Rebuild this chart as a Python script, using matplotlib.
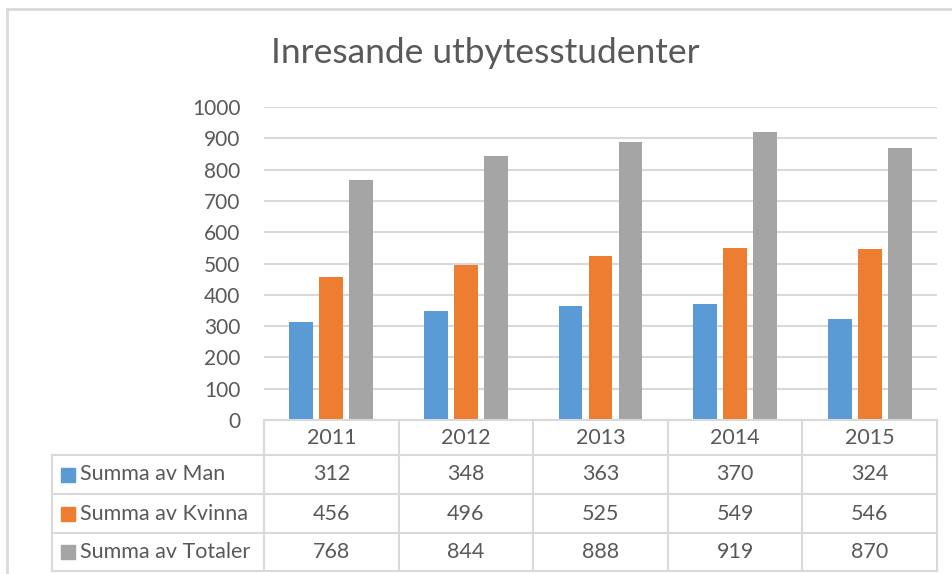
import matplotlib
matplotlib.use('Agg')
import matplotlib.pyplot as plt
from matplotlib.lines import Line2D
from matplotlib.patches import Rectangle
import matplotlib.transforms as mtransforms
import numpy as np

# ---- data ----
years = ['2011', '2012', '2013', '2014', '2015']
man = [312, 348, 363, 370, 324]
kvinna = [456, 496, 525, 549, 546]
totaler = [768, 844, 888, 919, 870]
series_names = ['Summa av Man', 'Summa av Kvinna', 'Summa av Totaler']
title = 'Inresande utbytesstudenter'
yticks = list(range(0, 1001, 100))

# ---- style ----
colors = ['#5B9BD5', '#ED7D31', '#A5A5A5']
text_c = '#595959'
grid_c = '#D9D9D9'
plt.rcParams['font.family'] = ['Lato', 'DejaVu Sans']

W, H = 952, 574
fig = plt.figure(figsize=(W / 100, H / 100), dpi=100)

def fx(px):
    return px / W

def fy(py):
    return 1 - py / H

# plot area in pixels
L, R, T, B = 264, 937, 107, 420
ax = fig.add_axes([fx(L), fy(B), (R - L) / W, (B - T) / H])

x = np.arange(len(years))
off, bw = 0.223, 0.178
all_series = [man, kvinna, totaler]
for i, (vals, c) in enumerate(zip(all_series, colors)):
    ax.bar(x + (i - 1) * off, vals, bw, color=c, zorder=3)

ax.set_xlim(-0.5, len(years) - 0.5)
ax.set_ylim(0, 1000)
ax.set_yticks(yticks)
ax.set_xticks([])
ax.yaxis.grid(True, color=grid_c, lw=1.5, zorder=0)
for s in ax.spines.values():
    s.set_visible(False)
ax.tick_params(axis='y', length=0, pad=17, labelsize=15, labelcolor=text_c)

# title
fig.text(fx(485), fy(53), title, ha='center', va='center', fontsize=25.5,
         color=text_c, fontweight='normal')

# ---- data table ----
rows_px = [420, 455, 494, 533, 571]
lab_left = 52
ln = dict(color=grid_c, lw=1.5, transform=fig.transFigure)
fig.add_artist(Line2D([fx(L), fx(R)], [fy(rows_px[0])] * 2, **ln))
for py in rows_px[1:]:
    fig.add_artist(Line2D([fx(lab_left), fx(R)], [fy(py)] * 2, **ln))
trans = mtransforms.blended_transform_factory(ax.transData, fig.transFigure)
for k in range(len(years) + 1):
    xb = k - 0.5
    fig.add_artist(Line2D([xb, xb], [fy(rows_px[0]), fy(rows_px[-1])],
                          color=grid_c, lw=1.5, transform=trans))
fig.add_artist(Line2D([fx(lab_left)] * 2, [fy(rows_px[1]), fy(rows_px[-1])], **ln))

fs = 15.5
ymid = (rows_px[0] + rows_px[1]) / 2
for xi, yr in zip(x, years):
    fig.text(xi, fy(ymid), yr, ha='center', va='center', fontsize=fs,
             color=text_c, transform=trans)
for r, (name, vals, c) in enumerate(zip(series_names, all_series, colors)):
    ym = (rows_px[r + 1] + rows_px[r + 2]) / 2
    fig.add_artist(Rectangle((fx(61), fy(ym + 7)), 14 / W, 14 / H,
                             color=c, transform=fig.transFigure))
    fig.text(fx(80), fy(ym), name, ha='left', va='center', fontsize=fs,
             color=text_c)
    for xi, v in zip(x, vals):
        fig.text(xi, fy(ym), str(v), ha='center', va='center', fontsize=fs,
                 color=text_c, transform=trans)

# chart border (partially cropped)
fig.add_artist(Line2D([fx(7), 1], [fy(9)] * 2, color=grid_c, lw=2,
                      transform=fig.transFigure))
fig.add_artist(Line2D([fx(7)] * 2, [fy(9), 0], color=grid_c, lw=2,
                      transform=fig.transFigure))

fig.savefig('out.png', dpi=100, facecolor='white')
